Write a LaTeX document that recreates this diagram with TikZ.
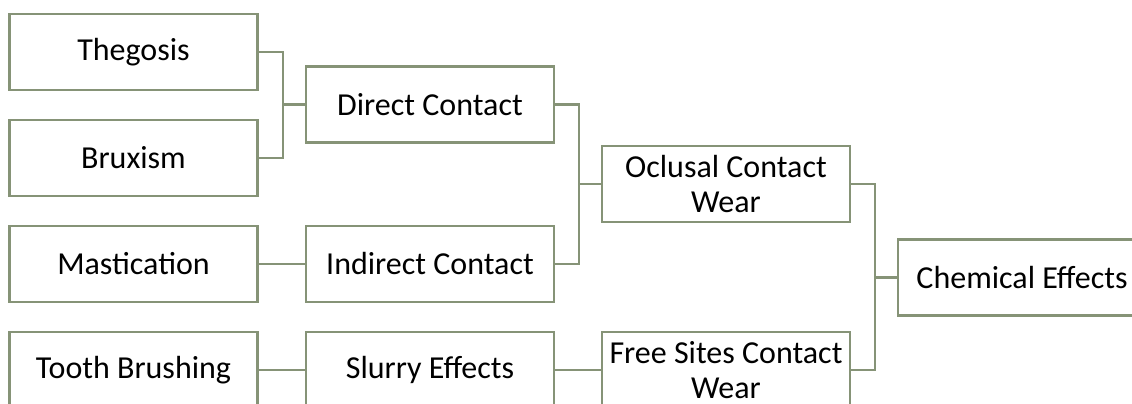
\documentclass[tikz,border=0pt]{standalone}
\usepackage{fontspec}
\setmainfont{Carlito}
\definecolor{boxline}{RGB}{134,147,119}
\tikzset{
  wearbox/.style={draw=boxline, line width=2.3pt, fill=white, minimum width=248pt,
    minimum height=76pt, inner sep=0pt, align=center,
    font=\fontsize{32}{35}\selectfont},
  link/.style={draw=boxline, line width=2.3pt}
}

\begin{document}
\begin{tikzpicture}[x=1pt, y=-1pt]
\useasboundingbox (0,0) rectangle (1132,404);
\clip (0,0) rectangle (1132,404);
% boxes:
\node[wearbox] (thegosis)    at (133.5,52)  {Thegosis};
\node[wearbox] (bruxism)     at (133.5,158) {Bruxism};
\node[wearbox] (mastication) at (133.5,264) {Mastication};
\node[wearbox] (brushing)    at (133.5,370) {Tooth Brushing};
\node[wearbox] (direct)      at (430,104.5) {Direct Contact};
\node[wearbox] (indirect)    at (430,264)   {Indirect Contact};
\node[wearbox] (slurry)      at (430,370)   {Slurry Effects};
\node[wearbox] (oclusal)     at (726,184)   {Oclusal Contact\\Wear};
\node[wearbox] (freesites)   at (726,370)   {Free Sites Contact\\Wear};
\node[wearbox] (chemical)    at (1022,277.5) {Chemical Effects};
% connectors:
\draw[link] (thegosis.east) -- ++(24,0) |- (direct.west);
\draw[link] (bruxism.east) -- ++(24,0) |- (direct.west);
\draw[link] (mastication.east) -- (indirect.west);
\draw[link] (brushing.east) -- (slurry.west);
\draw[link] (direct.east) -- ++(24,0) |- (oclusal.west);
\draw[link] (indirect.east) -- ++(24,0) |- (oclusal.west);
\draw[link] (slurry.east) -- (freesites.west);
\draw[link] (oclusal.east) -- ++(24,0) |- (chemical.west);
\draw[link] (freesites.east) -- ++(24,0) |- (chemical.west);
\end{tikzpicture}
\end{document}
